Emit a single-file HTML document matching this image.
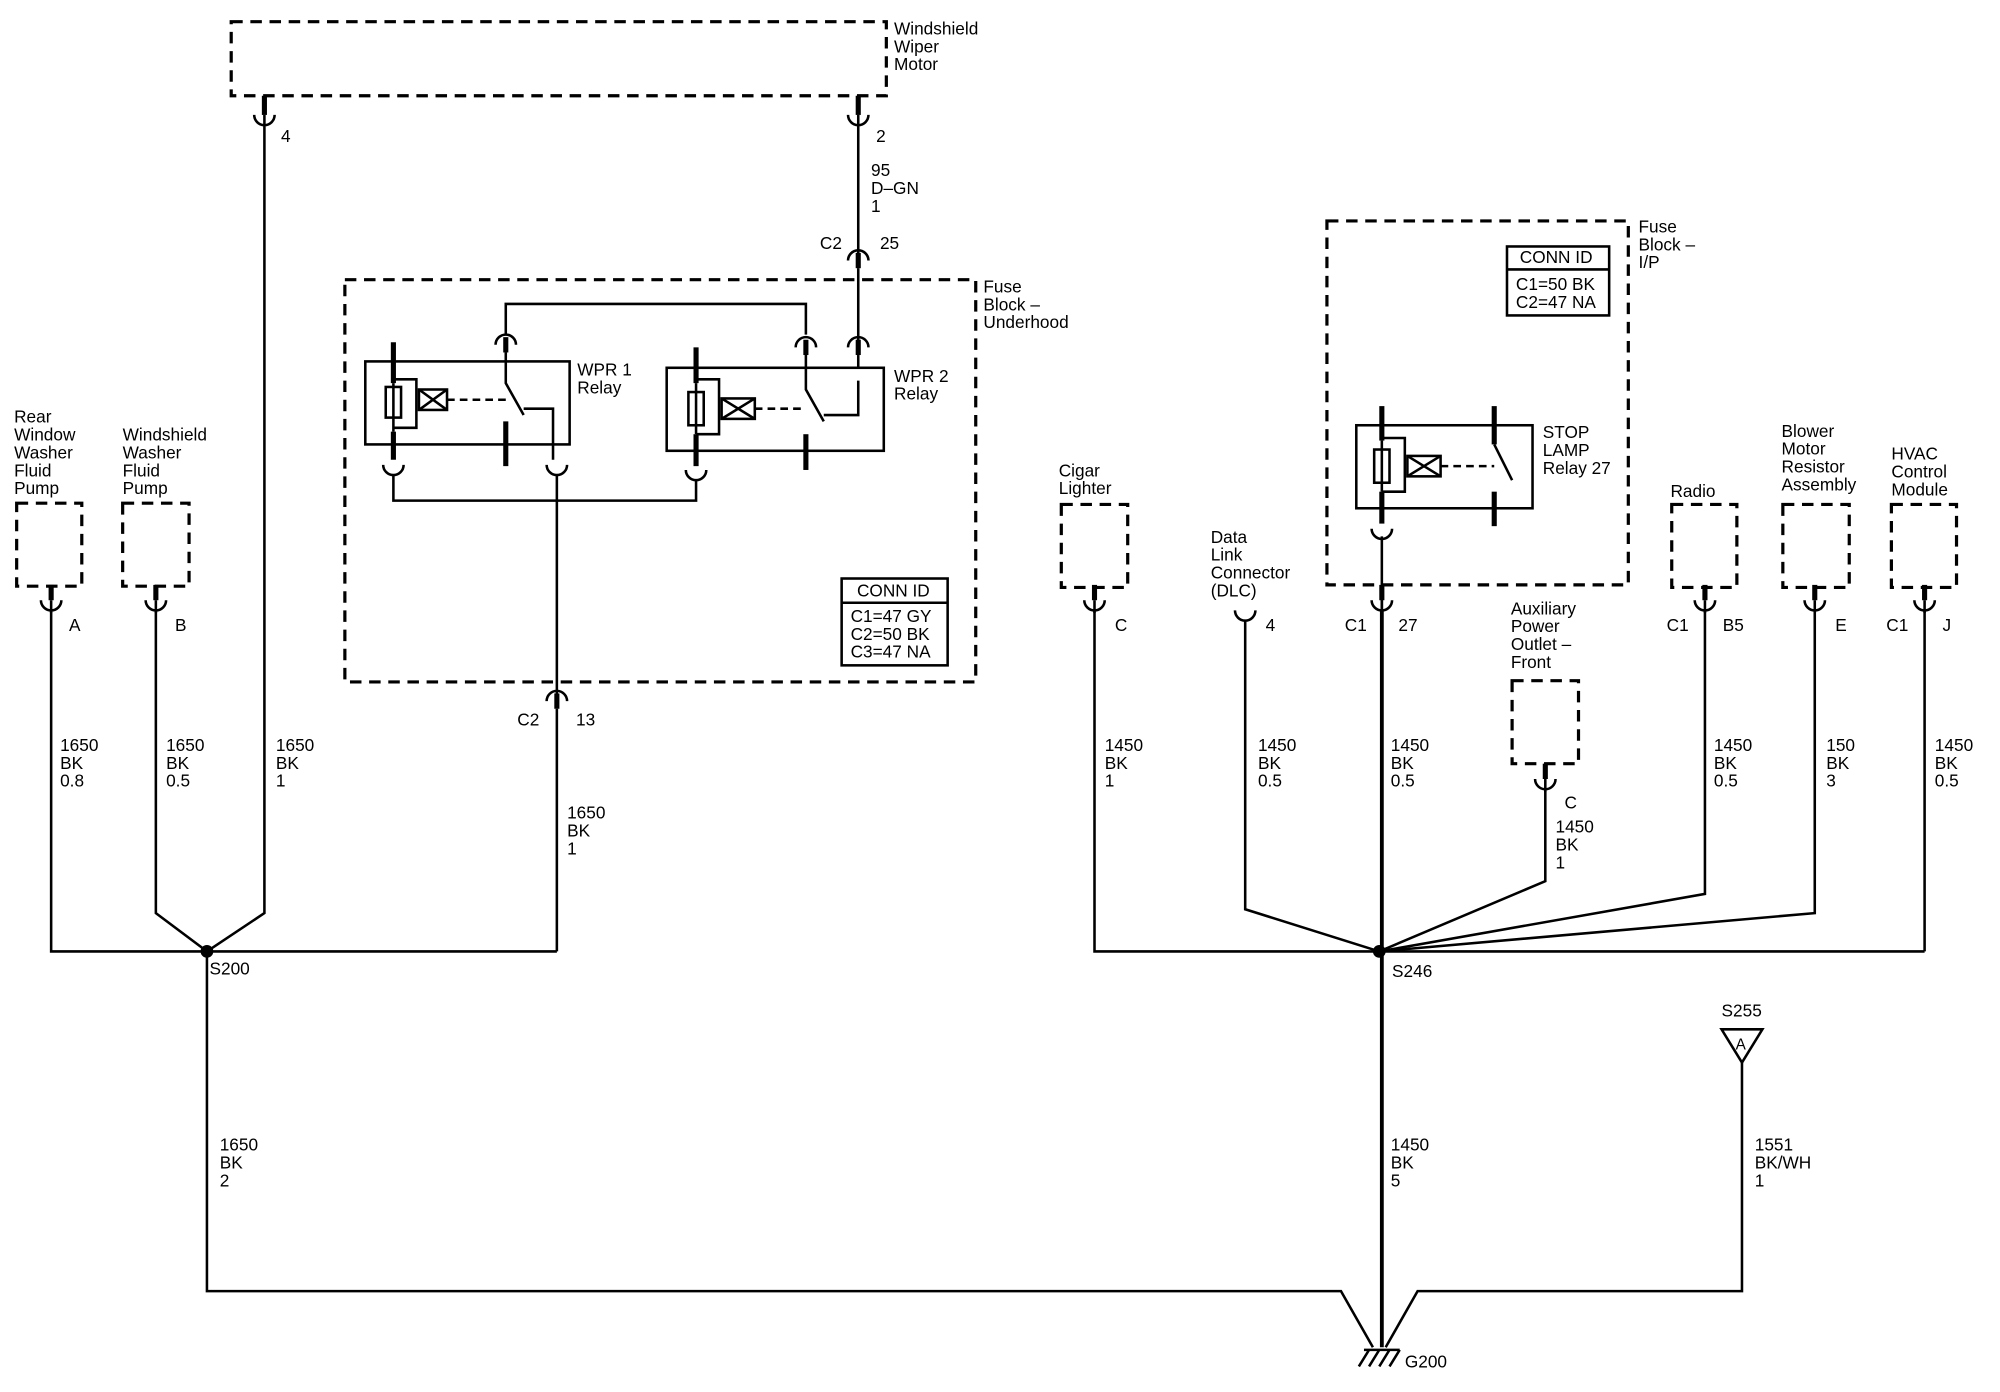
<!DOCTYPE html>
<html><head><meta charset="utf-8"><style>
html,body{margin:0;padding:0;background:#fff}
svg{display:block}
text{font-family:"Liberation Sans",sans-serif;font-size:13.5px;fill:#000}
.w{stroke:#000;stroke-width:2;fill:none}
.t{stroke:#000;stroke-width:4;fill:none}
.d{stroke:#000;stroke-width:2.5;fill:none;stroke-dasharray:9,6}
</style></head><body>
<svg width="2000" height="1392" viewBox="0 0 1566 1090" xmlns="http://www.w3.org/2000/svg">
<defs>
<g id="u"><path class="t" d="M0,-14 V-2"/><path class="w" d="M-8,-2 A8,8 0 0 0 8,-2"/><path class="w" d="M0,-2 V8"/></g>
<g id="n"><path class="w" d="M-8,6 A8,8 0 0 1 8,6"/><path class="t" d="M0,0 V12"/></g>
</defs>
<rect class="d" x="181" y="17" width="513" height="58"/>
<text x="700" y="27">Windshield</text><text x="700" y="41">Wiper</text><text x="700" y="55">Motor</text>
<path class="t" d="M207,75 V90"/><path class="w" d="M199,90 A8,8 0 0 0 215,90"/>
<path class="t" d="M672,75 V90"/><path class="w" d="M664,90 A8,8 0 0 0 680,90"/>
<text x="220" y="111">4</text><text x="686" y="111">2</text>
<path class="w" d="M207,90 V715 L162,745"/>
<path class="w" d="M672,90 V200"/>
<text x="682" y="138">95</text><text x="682" y="152">D–GN</text><text x="682" y="166">1</text>
<use href="#n" x="672" y="198"/>
<text x="642" y="195">C2</text><text x="689" y="195">25</text>
<path class="w" d="M672,210 V268"/>
<rect class="d" x="270" y="219" width="494" height="315"/>
<text x="770" y="229">Fuse</text><text x="770" y="243">Block –</text><text x="770" y="257">Underhood</text>
<path class="w" d="M396,262 V238 H631 V262"/>
<use href="#n" x="396" y="264"/><use href="#n" x="631" y="266"/><use href="#n" x="672" y="266"/>
<path class="w" d="M672,278 V288"/>
<rect class="w" x="286" y="283" width="160" height="65"/>
<rect class="w" x="522" y="288" width="170" height="65"/>
<text x="452" y="294">WPR 1</text><text x="452" y="308">Relay</text>
<text x="700" y="299">WPR 2</text><text x="700" y="313">Relay</text>
<path class="t" d="M308,268 V300"/><path class="w" d="M308,300 V338"/><path class="t" d="M308,338 V360"/>
<rect class="w" x="302" y="303" width="12" height="24" fill="#fff"/>
<path class="w" d="M308,297 H326 V335 H308"/>
<rect class="w" x="328" y="305" width="22" height="16" fill="#fff"/><path class="w" d="M328,305 L350,321 M350,305 L328,321"/>
<path class="w" d="M350,313 H396" stroke-dasharray="6,4"/>
<path class="w" d="M396,276 V300 L410,325"/><path class="w" d="M410,320 H433 V360"/>
<path class="t" d="M396,330 V365"/>
<path class="t" d="M545,272 V300"/><path class="w" d="M545,300 V340"/><path class="t" d="M545,340 V365"/>
<rect class="w" x="539" y="307" width="12" height="26" fill="#fff"/>
<path class="w" d="M545,297 H563 V340 H545"/>
<rect class="w" x="565" y="312" width="26" height="16" fill="#fff"/><path class="w" d="M565,312 L591,328 M591,312 L565,328"/>
<path class="w" d="M591,320 H631" stroke-dasharray="6,4"/>
<path class="w" d="M631,278 V305 L645,330"/><path class="w" d="M645,325 H672 V298"/>
<path class="t" d="M631,340 V368"/>
<path class="w" d="M300,364 A8,8 0 0 0 316,364"/><path class="w" d="M428,364 A8,8 0 0 0 444,364"/><path class="w" d="M537,368 A8,8 0 0 0 553,368"/>
<path class="w" d="M308,372 V392 H545 V376"/>
<path class="w" d="M436,372 V545"/>
<rect class="w" x="659" y="453" width="83" height="68"/><path class="w" d="M659,472 H742"/>
<text x="671" y="467">CONN ID</text>
<text x="666" y="487">C1=47 GY</text><text x="666" y="501">C2=50 BK</text><text x="666" y="515">C3=47 NA</text>
<use href="#n" x="436" y="543"/>
<text x="405" y="568">C2</text><text x="451" y="568">13</text>
<path class="w" d="M436,555 V745"/>
<text x="444" y="641">1650</text><text x="444" y="655">BK</text><text x="444" y="669">1</text>
<text x="11" y="331">Rear</text><text x="11" y="345">Window</text><text x="11" y="359">Washer</text><text x="11" y="373">Fluid</text><text x="11" y="387">Pump</text>
<text x="96" y="345">Windshield</text><text x="96" y="359">Washer</text><text x="96" y="373">Fluid</text><text x="96" y="387">Pump</text>
<rect class="d" x="13" y="394" width="51" height="65"/><rect class="d" x="96" y="394" width="52" height="65"/>
<use href="#u" x="40" y="472"/><use href="#u" x="122" y="472"/>
<text x="54" y="494">A</text><text x="137" y="494">B</text>
<path class="w" d="M40,478 V745 H436"/><path class="w" d="M122,478 V715 L162,745"/>
<text x="47" y="588">1650</text><text x="47" y="602">BK</text><text x="47" y="616">0.8</text>
<text x="130" y="588">1650</text><text x="130" y="602">BK</text><text x="130" y="616">0.5</text>
<text x="216" y="588">1650</text><text x="216" y="602">BK</text><text x="216" y="616">1</text>
<circle cx="162" cy="745" r="5"/>
<text x="164" y="763">S200</text>
<path class="w" d="M162,745 V1011 H1050 L1075,1055"/>
<text x="172" y="901">1650</text><text x="172" y="915">BK</text><text x="172" y="929">2</text>
<rect class="d" x="1039" y="173" width="236" height="285"/>
<text x="1283" y="182">Fuse</text><text x="1283" y="196">Block –</text><text x="1283" y="210">I/P</text>
<rect class="w" x="1180" y="193" width="80" height="54"/><path class="w" d="M1180,211 H1260"/>
<text x="1190" y="206">CONN ID</text><text x="1187" y="227">C1=50 BK</text><text x="1187" y="241">C2=47 NA</text>
<rect class="w" x="1062" y="333" width="138" height="65"/>
<text x="1208" y="343">STOP</text><text x="1208" y="357">LAMP</text><text x="1208" y="371">Relay 27</text>
<path class="t" d="M1082,318 V345"/><path class="w" d="M1082,345 V385"/><path class="t" d="M1082,385 V410"/>
<rect class="w" x="1076" y="352" width="12" height="26" fill="#fff"/>
<path class="w" d="M1082,343 H1100 V385 H1082"/>
<rect class="w" x="1102" y="357" width="26" height="16" fill="#fff"/><path class="w" d="M1102,357 L1128,373 M1128,357 L1102,373"/>
<path class="w" d="M1128,365 H1170" stroke-dasharray="6,4"/>
<path class="t" d="M1170,318 V348"/><path class="w" d="M1170,348 L1184,376"/><path class="t" d="M1170,385 V412"/>
<path class="w" d="M1074,414 A8,8 0 0 0 1090,414"/>
<use href="#u" x="1082" y="472"/>
<text x="1053" y="494">C1</text><text x="1095" y="494">27</text>
<path class="w" d="M1082,420 V478"/>
<path class="t" d="M1082,478 V1055" style="stroke-width:3"/>
<text x="1089" y="588">1450</text><text x="1089" y="602">BK</text><text x="1089" y="616">0.5</text>
<text x="1089" y="901">1450</text><text x="1089" y="915">BK</text><text x="1089" y="929">5</text>
<text x="829" y="373">Cigar</text><text x="829" y="387">Lighter</text>
<rect class="d" x="831" y="395" width="52" height="65"/>
<use href="#u" x="857" y="472"/><text x="873" y="494">C</text>
<path class="w" d="M857,478 V745 H1507"/>
<text x="865" y="588">1450</text><text x="865" y="602">BK</text><text x="865" y="616">1</text>
<text x="948" y="425">Data</text><text x="948" y="439">Link</text><text x="948" y="453">Connector</text><text x="948" y="467">(DLC)</text>
<path class="w" d="M967,478 A8,8 0 0 0 983,478"/>
<text x="991" y="494">4</text>
<path class="w" d="M975,486 V712 L1080,745"/>
<text x="985" y="588">1450</text><text x="985" y="602">BK</text><text x="985" y="616">0.5</text>
<text x="1183" y="481">Auxiliary</text><text x="1183" y="495">Power</text><text x="1183" y="509">Outlet –</text><text x="1183" y="523">Front</text>
<rect class="d" x="1184" y="533" width="52" height="65"/>
<use href="#u" x="1210" y="612"/><text x="1225" y="633">C</text>
<path class="w" d="M1210,618 V690 L1080,745"/>
<text x="1218" y="652">1450</text><text x="1218" y="666">BK</text><text x="1218" y="680">1</text>
<text x="1308" y="389">Radio</text>
<rect class="d" x="1309" y="395" width="51" height="65"/>
<use href="#u" x="1335" y="472"/><text x="1305" y="494">C1</text><text x="1349" y="494">B5</text>
<path class="w" d="M1335,478 V700 L1080,745"/>
<text x="1342" y="588">1450</text><text x="1342" y="602">BK</text><text x="1342" y="616">0.5</text>
<text x="1395" y="342">Blower</text><text x="1395" y="356">Motor</text><text x="1395" y="370">Resistor</text><text x="1395" y="384">Assembly</text>
<rect class="d" x="1396" y="395" width="52" height="65"/>
<use href="#u" x="1421" y="472"/><text x="1437" y="494">E</text>
<path class="w" d="M1421,478 V715 L1080,745"/>
<text x="1430" y="588">150</text><text x="1430" y="602">BK</text><text x="1430" y="616">3</text>
<text x="1481" y="360">HVAC</text><text x="1481" y="374">Control</text><text x="1481" y="388">Module</text>
<rect class="d" x="1481" y="395" width="51" height="65"/>
<use href="#u" x="1507" y="472"/><text x="1477" y="494">C1</text><text x="1521" y="494">J</text>
<path class="w" d="M1507,478 V745"/>
<text x="1515" y="588">1450</text><text x="1515" y="602">BK</text><text x="1515" y="616">0.5</text>
<circle cx="1080" cy="745" r="5"/>
<text x="1090" y="765">S246</text>
<text x="1348" y="796">S255</text>
<path class="w" d="M1348,806 H1380 L1364,832 Z"/><text x="1359" y="822" style="font-size:12px">A</text>
<path class="w" d="M1364,832 V1011 H1110 L1085,1055"/>
<text x="1374" y="901">1551</text><text x="1374" y="915">BK/WH</text><text x="1374" y="929">1</text>
<path class="w" d="M1068,1057 H1096 M1072,1057 L1064,1070 M1080,1057 L1072,1070 M1088,1057 L1080,1070 M1096,1057 L1088,1070"/>
<text x="1100" y="1071">G200</text>
</svg>
</body></html>
